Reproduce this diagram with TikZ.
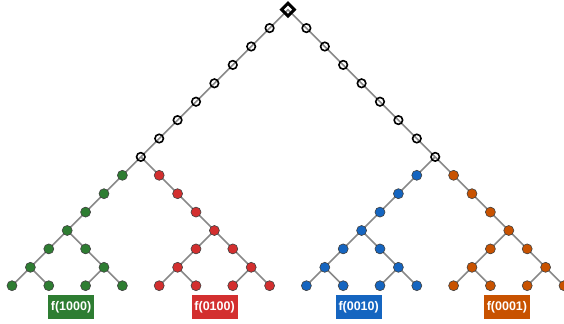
\documentclass[tikz,border=0pt]{standalone}
\usepackage{fontspec}
\setmainfont{Liberation Sans}
\usetikzlibrary{shapes.geometric,backgrounds}
\definecolor{cgreen}{HTML}{2E7D32}
\definecolor{cred}{HTML}{D32F2F}
\definecolor{cblue}{HTML}{1565C0}
\definecolor{corange}{HTML}{C85200}
\definecolor{edgegray}{HTML}{888888}

\begin{document}
\begin{tikzpicture}[x=18.4pt, y=-18.4pt]
  \tikzstyle{hollow}=[circle,draw=black,line width=1.6pt,inner sep=0pt,minimum size=8.5pt]
  \tikzstyle{dot}=[circle,draw=black!75,line width=0.6pt,inner sep=0pt,minimum size=10pt]
  \tikzstyle{tag}=[rectangle,text=white,font=\bfseries\fontsize{12.5}{14}\selectfont,minimum width=46pt,minimum height=23.5pt,inner sep=2pt]
  \tikzstyle{edge}=[draw=edgegray,line width=1.6pt]
  \useasboundingbox (-15.652,-0.527) rectangle (15.0,17.08);
  \node[diamond,draw=black,line width=3pt,minimum size=14pt,inner sep=0pt] (root) at (0,0) {};
  % shared chain down to the two splits
  \foreach \i in {1,...,8} {
    \node[hollow] (L\i) at (-\i,\i) {};
    \node[hollow] (R\i) at (\i,\i) {};
  }
  \begin{scope}[on background layer]
    \draw[edge] (L8.center) -- (root.center) -- (R8.center);
  \end{scope}
  % one coloured subtree per basis state
  \foreach \nm/\col/\top/\sx/\d/\lx/\txt in {g/cgreen/L8/-8/-1/-11.79/f(1000), r/cred/L8/-8/1/-3.99/f(0100), b/cblue/R8/8/-1/3.84/f(0010), o/corange/R8/8/1/11.9/f(0001)} {
    \pgfmathsetmacro{\bx}{\sx+4*\d}
    \node[dot,fill=\col] (\nm1) at (\sx+\d,9) {};
    \node[dot,fill=\col] (\nm2) at (\sx+2*\d,10) {};
    \node[dot,fill=\col] (\nm3) at (\sx+3*\d,11) {};
    \node[dot,fill=\col] (\nm4) at (\bx,12) {};
    \node[dot,fill=\col] (\nm5) at (\bx-1,13) {};
    \node[dot,fill=\col] (\nm6) at (\bx+1,13) {};
    \node[dot,fill=\col] (\nm7) at (\bx-2,14) {};
    \node[dot,fill=\col] (\nm8) at (\bx+2,14) {};
    \node[dot,fill=\col] (\nm9) at (\bx-3,15) {};
    \node[dot,fill=\col] (\nm10) at (\bx-1,15) {};
    \node[dot,fill=\col] (\nm11) at (\bx+1,15) {};
    \node[dot,fill=\col] (\nm12) at (\bx+3,15) {};
    \node[tag,fill=\col] (\nm lab) at (\lx,16.16) {\txt};
    \begin{scope}[on background layer]
      \draw[edge] (\top.center) -- (\nm4.center) -- (\nm5.center) -- (\nm7.center) -- (\nm9.center);
      \draw[edge] (\nm4.center) -- (\nm6.center) -- (\nm8.center) -- (\nm12.center);
      \draw[edge] (\nm7.center) -- (\nm10.center);
      \draw[edge] (\nm8.center) -- (\nm11.center);
    \end{scope}
  }
\end{tikzpicture}
\end{document}
